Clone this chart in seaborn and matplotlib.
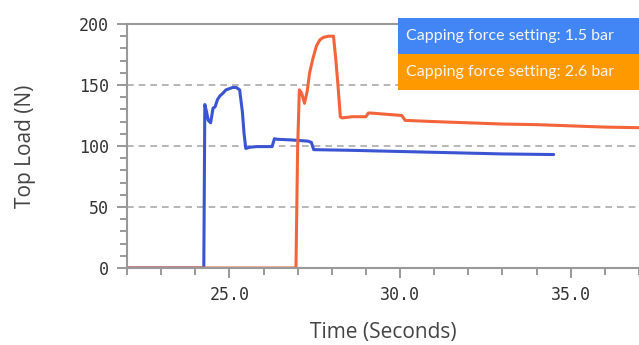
import numpy as np
import pandas as pd
import matplotlib.pyplot as plt
import seaborn as sns
from matplotlib.patches import Rectangle
from matplotlib.ticker import MultipleLocator, FormatStrFormatter

# --- data ---
time_low = [22.0, 24.25, 24.28, 24.33, 24.38, 24.45, 24.52, 24.58, 24.65, 24.72,
            24.8, 24.9, 25.0, 25.1, 25.2, 25.3, 25.38, 25.43, 25.48, 25.6,
            25.8, 26.0, 26.25, 26.32, 26.4, 26.8, 27.3, 27.4, 27.47, 28.5,
            30.0, 31.5, 33.0, 34.5]
load_low = [0, 0, 134, 128, 121, 119, 131, 132, 138, 141,
            143, 146, 147, 148, 148, 146, 128, 110, 98, 99,
            99.5, 99.5, 99.5, 106, 105.5, 105, 104, 103, 97, 96.5,
            95.5, 94.5, 93.5, 93]

time_high = [22.0, 26.95, 27.0, 27.05, 27.12, 27.2, 27.28, 27.35, 27.45, 27.55,
             27.65, 27.75, 27.9, 28.05, 28.12, 28.18, 28.25, 28.3, 28.6, 29.0,
             29.07, 29.15, 29.6, 30.05, 30.15, 31.0, 32.0, 33.0, 34.0, 35.0,
             36.0, 37.0]
load_high = [0, 0, 100, 146, 143, 135, 145, 160, 172, 182,
             187, 189, 190, 190, 170, 150, 124, 123, 124, 124,
             127, 127, 126, 125, 121, 120, 119, 118, 117.5, 116.5,
             115.5, 115]

labels = ["Capping force setting: 1.5 bar", "Capping force setting: 2.6 bar"]
line_colors = ["#3b55d2", "#f4643a"]
box_colors = ["#4286f5", "#ff9900"]

df = pd.concat([
    pd.DataFrame({"time": time_low, "load": load_low, "setting": labels[0]}),
    pd.DataFrame({"time": time_high, "load": load_high, "setting": labels[1]}),
])

sns.set_style("white")
fig = plt.figure(figsize=(6.39, 3.45), dpi=100)
ax = fig.add_axes([127 / 639, 1 - 268 / 345, 1 - 127 / 639, (268 - 24) / 345])

sns.lineplot(data=df, x="time", y="load", hue="setting", palette=line_colors,
             linewidth=2.2, legend=False, ax=ax, sort=False, estimator=None)

ax.set_xlim(22, 37)
ax.set_ylim(0, 200)
ax.xaxis.set_major_locator(MultipleLocator(5))
ax.xaxis.set_minor_locator(MultipleLocator(1))
ax.yaxis.set_major_locator(MultipleLocator(50))
ax.yaxis.set_minor_locator(MultipleLocator(10))
ax.xaxis.set_major_formatter(FormatStrFormatter("%.1f"))

ax.tick_params(which="both", direction="out", color="#888888", width=1.2,
               bottom=True, left=True)
ax.tick_params(which="major", length=7, labelsize=12, labelcolor="#333333", pad=6)
ax.tick_params(which="minor", length=5)
for lab in ax.get_xticklabels() + ax.get_yticklabels():
    lab.set_family("DejaVu Sans Mono")

for y in [50, 100, 150]:
    ax.axhline(y, color="#aaaaaa", lw=1.2, ls=(0, (4, 3)), zorder=0)

for side in ["left", "bottom", "top"]:
    ax.spines[side].set_color("#999999")
    ax.spines[side].set_linewidth(1.5)
ax.spines["right"].set_visible(False)

ax.set_xlabel("Time (Seconds)", fontsize=15, color="#444444",
              family="Open Sans", labelpad=13)
ax.set_ylabel("Top Load (N)", fontsize=15, color="#444444",
              family="Open Sans", labelpad=31)

# legend boxes in the top right corner
box_x, box_w, box_h = 398 / 639, 241 / 639, 36 / 345
for i, (lab, col) in enumerate(zip(labels, box_colors)):
    y0 = 1 - (18 + (i + 1) * 36) / 345
    fig.patches.append(Rectangle((box_x, y0), box_w, box_h, transform=fig.transFigure,
                                 facecolor=col, edgecolor="none", zorder=5))
    fig.text(box_x + 8 / 639, y0 + box_h / 2, lab, color="#f6f6f6", fontsize=11.5,
             family="Lato", va="center", ha="left", zorder=6)

fig.savefig("out.png", dpi=100)
